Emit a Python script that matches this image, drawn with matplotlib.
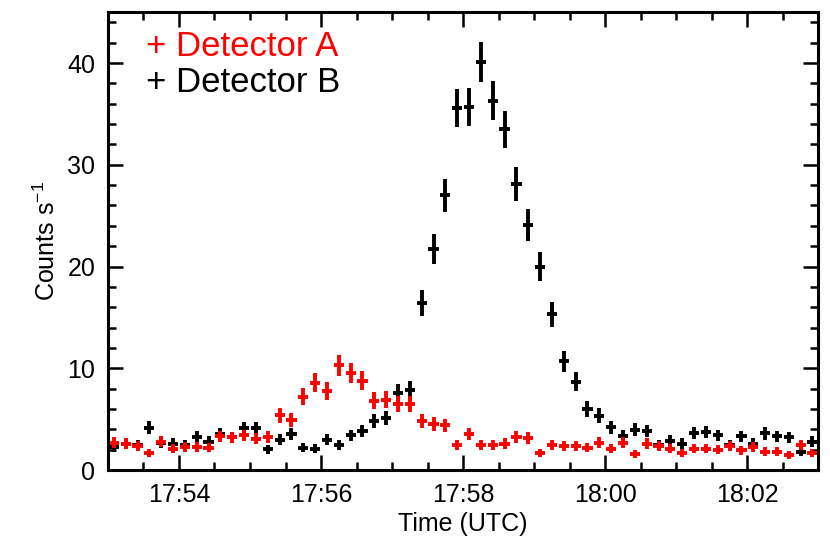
import numpy as np
import pandas as pd
import matplotlib
matplotlib.use("Agg")
import matplotlib.pyplot as plt
import matplotlib.dates as mdates
from matplotlib.ticker import MultipleLocator

plt.rcParams['font.family'] = ['Liberation Sans', 'DejaVu Sans']
plt.rcParams['mathtext.fontset'] = 'custom'
plt.rcParams['mathtext.rm'] = 'Liberation Sans'

# 10 s bins, bin centres from 17:53:05
bin_sec = 10.0
times = pd.date_range("2020-01-01 17:53:05", periods=60, freq="10s")

# count rates (counts/s)
det_a = [2.7, 2.6, 2.35, 1.7, 2.8, 2.1, 2.3, 2.3, 2.2, 3.3,
         3.2, 3.4, 3.1, 3.25, 5.4, 4.9, 7.2, 8.6, 7.8, 10.3,
         9.5, 8.8, 6.8, 6.9, 6.5, 6.5, 4.8, 4.55, 4.4, 2.45,
         3.5, 2.45, 2.45, 2.6, 3.25, 3.15, 1.7, 2.45, 2.35, 2.35,
         2.2, 2.7, 2.1, 2.7, 1.6, 2.6, 2.35, 2.1, 1.7, 2.1,
         2.1, 2.0, 2.35, 1.95, 2.25, 1.8, 1.8, 1.5, 2.5, 1.7]
det_b = [2.3, 2.6, 2.5, 4.15, 2.7, 2.6, 2.45, 3.25, 2.8, 3.5,
         3.2, 4.1, 4.1, 2.05, 3.0, 3.5, 2.2, 2.1, 3.0, 2.5,
         3.4, 3.85, 4.8, 5.1, 7.6, 7.9, 16.45, 21.7, 27.0, 35.6,
         35.7, 40.1, 36.3, 33.5, 28.1, 24.1, 20.0, 15.3, 10.7, 8.7,
         6.0, 5.35, 4.2, 3.35, 3.95, 3.85, 2.45, 2.9, 2.6, 3.65,
         3.75, 3.4, 2.45, 3.3, 2.6, 3.6, 3.3, 3.2, 1.8, 2.8]

det_a = np.array(det_a)
det_b = np.array(det_b)
# Poisson errors on the rates
err_a = np.sqrt(det_a * bin_sec) / bin_sec
err_b = np.sqrt(det_b * bin_sec) / bin_sec
xerr = pd.Timedelta(seconds=4.3)

fig = plt.figure(figsize=(8.3, 5.53), dpi=100)
ax = fig.add_axes([0.130, 0.150, 0.856, 0.828])

ax.errorbar(times, det_b, yerr=err_b, xerr=xerr, fmt='none',
            ecolor='black', elinewidth=2.8, capsize=0)
ax.errorbar(times, det_a, yerr=err_a, xerr=xerr, fmt='none',
            ecolor='red', elinewidth=2.8, capsize=0)

ax.set_xlim(pd.Timestamp("2020-01-01 17:53:00"), pd.Timestamp("2020-01-01 18:03:00"))
ax.set_ylim(0, 45)

ax.xaxis.set_major_locator(mdates.MinuteLocator(byminute=range(0, 60, 2)))
ax.xaxis.set_minor_locator(mdates.SecondLocator(bysecond=[0, 30]))
ax.xaxis.set_major_formatter(mdates.DateFormatter('%H:%M'))
ax.yaxis.set_major_locator(MultipleLocator(10))
ax.yaxis.set_minor_locator(MultipleLocator(2))

ax.tick_params(which='both', direction='in', top=True, right=True,
               width=1.8, labelsize=18)
ax.tick_params(which='major', length=11, pad=9)
ax.tick_params(which='minor', length=6)
for s in ax.spines.values():
    s.set_linewidth(2.2)

ax.set_xlabel('Time (UTC)', fontsize=18, labelpad=4)
ax.set_ylabel(r'Counts s$^{\mathrm{-1}}$', fontsize=18, labelpad=5)

ax.text(0.053, 0.924, '+ Detector A', color='red', fontsize=25,
        transform=ax.transAxes, va='center', ha='left')
ax.text(0.053, 0.847, '+ Detector B', color='black', fontsize=25,
        transform=ax.transAxes, va='center', ha='left')

fig.savefig('out.png', dpi=100)
